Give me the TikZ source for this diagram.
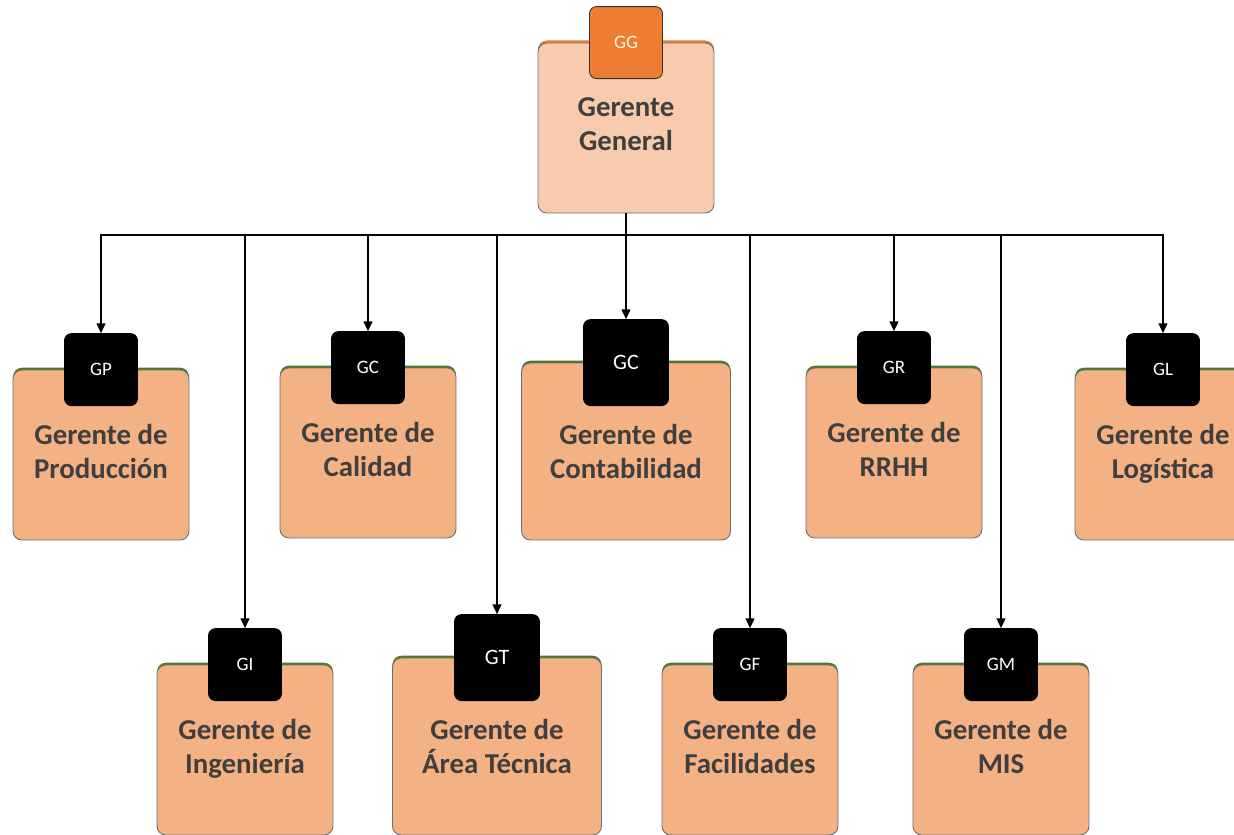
\documentclass[tikz,border=0pt]{standalone}
\usepackage{fontspec}
\setmainfont{Carlito}
\usetikzlibrary{arrows.meta}
\definecolor{boxfill}{HTML}{F4B183}
\definecolor{topfill}{HTML}{F8CBAD}
\definecolor{taborange}{HTML}{ED7D31}
\definecolor{edgegreen}{HTML}{4E7A2E}
\definecolor{textgray}{HTML}{3F3F3F}
\tikzset{
  box/.style={draw=gray!85!black, line width=0.5pt, rounded corners=5pt, fill=boxfill,
    minimum width=3.52cm, minimum height=3.4cm, align=center, text depth=4pt,
    font=\bfseries\fontsize{16.4}{19.3}\selectfont, text=textgray,
    preaction={fill=edgegreen, transform canvas={yshift=1.3pt}}},
  bigbox/.style={box, minimum width=4.18cm, minimum height=3.54cm, text depth=},
  topbox/.style={box, fill=topfill, preaction={fill=taborange, transform canvas={yshift=1.3pt}}},
  tab/.style={draw=black, line width=0.5pt, rounded corners=4pt, fill=black, text=white,
    minimum width=1.46cm, minimum height=1.44cm, font=\fontsize{10.8}{12}\selectfont},
  bigtab/.style={tab, minimum width=1.7cm, minimum height=1.72cm, font=\fontsize{12.5}{14}\selectfont},
  toptab/.style={tab, fill=taborange, draw=black!80, text=white!92!orange},
  link/.style={-{Triangle[length=5.5pt,width=5pt]}, line width=0.8pt}
}
\begin{document}
\begin{tikzpicture}[x=0.02cm, y=-0.02cm]
  \useasboundingbox (0,0) rectangle (1234,835);

  % top
  \node[topbox] (gg) at (626,128) {Gerente\\General};
  \node[toptab] (ggt) at (gg.north) {GG};

  % first row
  \node[box] (gp) at (101,455) {Gerente de\\Producción};
  \node[tab] (gpt) at (gp.north) {GP};
  \node[box] (gcal) at (368,453) {Gerente de\\Calidad};
  \node[tab] (gcalt) at (gcal.north) {GC};
  \node[bigbox] (gcon) at (626,451.5) {Gerente de\\Contabilidad};
  \node[bigtab] (gcont) at (gcon.north) {GC};
  \node[box] (grh) at (894,453) {Gerente de\\RRHH};
  \node[tab] (grht) at (grh.north) {GR};
  \node[box] (glog) at (1163,455) {Gerente de\\Logística};
  \node[tab] (glogt) at (glog.north) {GL};

  % second row
  \node[box] (ging) at (245,750) {Gerente de\\Ingeniería};
  \node[tab] (gingt) at (ging.north) {GI};
  \node[bigbox] (gat) at (497,746.5) {Gerente de\\Área Técnica};
  \node[bigtab] (gatt) at (gat.north) {GT};
  \node[box] (gfac) at (750,750) {Gerente de\\Facilidades};
  \node[tab] (gfact) at (gfac.north) {GF};
  \node[box] (gmis) at (1001,750) {Gerente de\\MIS};
  \node[tab] (gmist) at (gmis.north) {GM};

  % connectors
  \coordinate (bus) at (626,235);
  \foreach \t in {gpt,gingt,gcalt,gatt,gcont,gfact,grht,gmist,glogt}
    \draw[link] (gg.south) -- (gg.south |- bus) -| (\t.north);
\end{tikzpicture}
\end{document}
